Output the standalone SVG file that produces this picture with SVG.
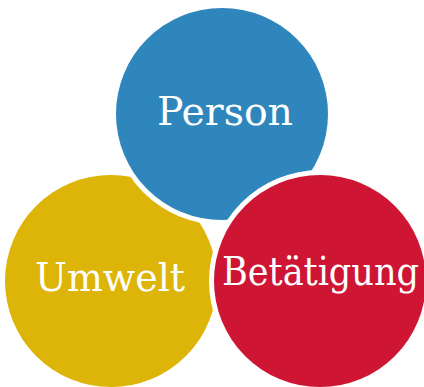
<svg xmlns="http://www.w3.org/2000/svg" width="424" height="387" viewBox="0 0 424 387">
<style>
.gap{fill:#ffffff}
.lbl{fill:#ffffff;font-family:"DejaVu Serif Condensed","DejaVu Serif","Liberation Serif",serif;font-stretch:condensed;font-size:40px}
</style>
<rect width="424" height="387" fill="#ffffff"/>
<g id="umwelt">
<circle cx="111" cy="281" r="106" fill="#DDB508"/>
</g>
<g id="person">
<circle class="gap" cx="222" cy="114" r="111"/>
<circle cx="222" cy="114" r="106" fill="#2E86BC"/>
</g>
<g id="betaetigung">
<circle class="gap" cx="320" cy="281" r="111"/>
<circle cx="320" cy="281" r="106" fill="#CE1534"/>
</g>
<g id="labels">
<text class="lbl" x="225" y="125" text-anchor="middle" textLength="136" lengthAdjust="spacingAndGlyphs">Person</text>
<text class="lbl" x="110" y="291" text-anchor="middle" textLength="150" lengthAdjust="spacingAndGlyphs">Umwelt</text>
<text class="lbl" x="320.5" y="285" text-anchor="middle" textLength="197" lengthAdjust="spacingAndGlyphs">Betätigung</text>
</g>
<g id="connectors"></g>
</svg>
